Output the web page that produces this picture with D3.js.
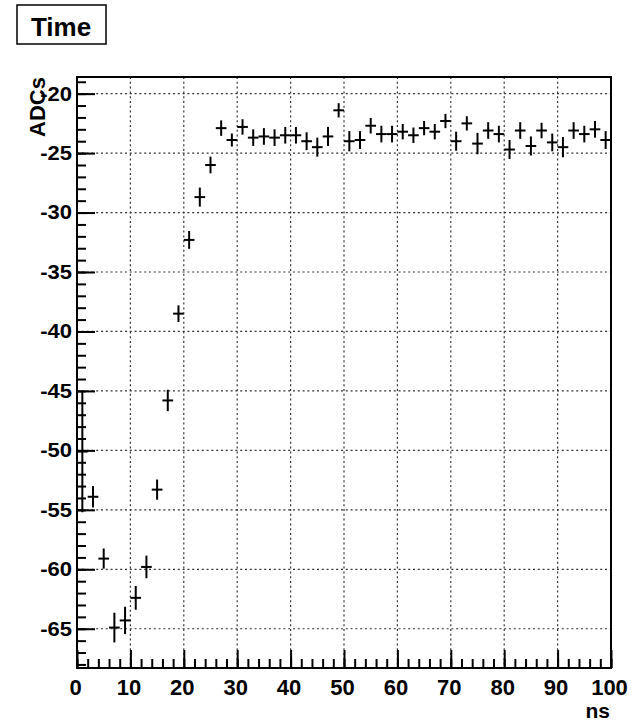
<!DOCTYPE html>
<html>
    <head>
        <meta charset="utf-8">
        <style>
        body { margin: 0; background: #fff; }
        text { font-family: "Liberation Sans", Arial, sans-serif; font-weight: bold; fill: #000; }
        .grid line { stroke: #333; stroke-width: 1.2; stroke-dasharray: 2,2.8; }
        .axis .domain { display: none; }
        .axis line { stroke: #000; stroke-width: 2; }
        .marks line { stroke: #000; stroke-width: 2; }
        </style>
        <script src="https://d3js.org/d3.v7.min.js"></script>
    </head>
    <body>
        <svg width="632" height="722"></svg>
    <script>

        // bin centres (ns), bin width 2
        var binCenters = [1, 3, 5, 7, 9, 11, 13, 15, 17, 19, 21, 23, 25, 27, 29, 31, 33, 35, 37, 39,
                          41, 43, 45, 47, 49, 51, 53, 55, 57, 59, 61, 63, 65, 67, 69, 71, 73, 75, 77, 79,
                          81, 83, 85, 87, 89, 91, 93, 95, 97, 99];
        var adcValues = [-50.1, -53.9, -59.1, -64.9, -64.3, -62.4, -59.8, -53.3, -45.8, -38.5,
                         -32.3, -28.7, -26.0, -22.9, -23.9, -22.8, -23.7, -23.6, -23.7, -23.5,
                         -23.5, -24.0, -24.5, -23.6, -21.4, -24.0, -23.9, -22.7, -23.4, -23.4,
                         -23.2, -23.5, -22.9, -23.2, -22.3, -24.0, -22.5, -24.2, -23.1, -23.4,
                         -24.7, -23.1, -24.4, -23.1, -24.1, -24.5, -23.1, -23.4, -23.0, -23.9];
        var adcErrors = [5.1, 0.9, 0.85, 1.25, 1.15, 1.0, 0.95, 0.85, 0.9, 0.7,
                         0.75, 0.8, 0.7, 0.65, 0.55, 0.65, 0.7, 0.7, 0.7, 0.7,
                         0.7, 0.75, 0.8, 0.8, 0.6, 0.85, 0.75, 0.65, 0.7, 0.7,
                         0.65, 0.65, 0.6, 0.65, 0.6, 0.8, 0.6, 0.9, 0.7, 0.7,
                         0.8, 0.7, 0.8, 0.65, 0.75, 0.85, 0.7, 0.7, 0.7, 0.75];
        var binHalfWidth = 1;

        var xMajor = [0, 10, 20, 30, 40, 50, 60, 70, 80, 90, 100];
        var yMajor = [-65, -60, -55, -50, -45, -40, -35, -30, -25, -20];

        var svg = d3.select("svg");
        var padL = 77, padR = 611, padT = 77, padB = 668;

        var x = d3.scaleLinear().domain([0, 100]).range([padL, padR]);
        var y = d3.scaleLinear().domain([-68.3, -18.6]).range([padB, padT]);

        svg.append("rect").attr("width", 632).attr("height", 722).attr("fill", "#fff");

        // dotted grid at the major ticks
        var grid = svg.append("g").attr("class", "grid");
        grid.selectAll(".gx").data(xMajor.slice(1, -1)).enter().append("line")
            .attr("x1", function(d) { return x(d); }).attr("x2", function(d) { return x(d); })
            .attr("y1", padT).attr("y2", padB);
        grid.selectAll(".gy").data(yMajor).enter().append("line")
            .attr("x1", padL).attr("x2", padR)
            .attr("y1", function(d) { return y(d); }).attr("y2", function(d) { return y(d); });

        // minor ticks
        svg.append("g").attr("class", "axis")
            .attr("transform", "translate(" + padL + ",0)")
            .call(d3.axisLeft(y).tickValues(d3.range(-68, -18, 1)).tickSize(-9).tickFormat(""));
        svg.append("g").attr("class", "axis")
            .attr("transform", "translate(0," + padB + ")")
            .call(d3.axisBottom(x).tickValues(d3.range(0, 101, 2)).tickSize(-9).tickFormat(""));

        // major ticks and labels (plain hyphen, like the original)
        var yAxis = svg.append("g").attr("class", "axis")
            .attr("transform", "translate(" + padL + ",0)")
            .call(d3.axisLeft(y).tickValues(yMajor).tickFormat(function(d) { return String(d); })
                .tickSizeInner(-18).tickSizeOuter(0).tickPadding(5));
        yAxis.selectAll("text")
            .attr("font-size", 20)
            .attr("transform", "translate(-5,0) scale(1.1,1)")
            .attr("x", 0);

        var xAxis = svg.append("g").attr("class", "axis")
            .attr("transform", "translate(0," + padB + ")")
            .call(d3.axisBottom(x).tickValues(xMajor).tickFormat(function(d) { return String(d); })
                .tickSizeInner(-18).tickSizeOuter(0).tickPadding(11));
        xAxis.selectAll("text").attr("font-size", 22).attr("dx", -2);

        // frame
        svg.append("rect")
            .attr("x", padL).attr("y", padT)
            .attr("width", padR - padL).attr("height", padB - padT)
            .attr("fill", "none").attr("stroke", "#000").attr("stroke-width", 2);

        // error-bar crosses
        var pts = binCenters.map(function(c, i) { return {c: c, v: adcValues[i], e: adcErrors[i]}; });
        var marks = svg.append("g").attr("class", "marks");
        marks.selectAll(".h").data(pts).enter().append("line")
            .attr("x1", function(d) { return x(d.c - binHalfWidth); })
            .attr("x2", function(d) { return x(d.c + binHalfWidth); })
            .attr("y1", function(d) { return y(d.v); })
            .attr("y2", function(d) { return y(d.v); });
        marks.selectAll(".v").data(pts).enter().append("line")
            .attr("x1", function(d) { return x(d.c); })
            .attr("x2", function(d) { return x(d.c); })
            .attr("y1", function(d) { return y(d.v + d.e); })
            .attr("y2", function(d) { return y(d.v - d.e); });

        // axis titles
        svg.append("text")
            .attr("font-size", 22)
            .attr("text-anchor", "end")
            .attr("transform", "translate(45," + padT + ") rotate(-90)")
            .text("ADCs");

        svg.append("text")
            .attr("font-size", 21)
            .attr("text-anchor", "end")
            .attr("x", 610).attr("y", 718)
            .text("ns");

        // title box
        svg.append("rect")
            .attr("x", 17).attr("y", 5).attr("width", 89).attr("height", 39)
            .attr("fill", "#fff").attr("stroke", "#000").attr("stroke-width", 1.5);
        svg.append("text")
            .attr("font-size", 26)
            .attr("text-anchor", "middle")
            .attr("x", 61).attr("y", 36)
            .text("Time");

    </script>
    </body>
</html>
